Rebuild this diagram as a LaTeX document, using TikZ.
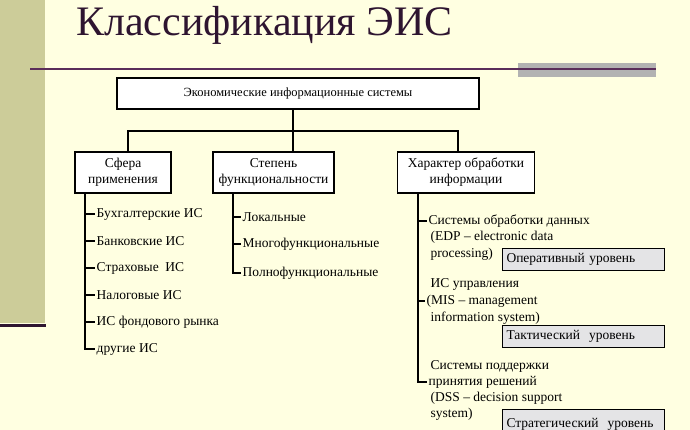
\documentclass[tikz,border=0pt]{standalone}
\usepackage{fontspec}
\setmainfont{Liberation Serif}
\usetikzlibrary{positioning}
\definecolor{slidebg}{HTML}{FFFFE1}
\definecolor{bandcol}{HTML}{CCCC99}
\definecolor{titlecol}{HTML}{2E1530}
\definecolor{rulecol}{HTML}{5A2D5A}
\definecolor{levelgray}{HTML}{E4E4E6}
\begin{document}
\begin{tikzpicture}[x=1pt,y=-1pt,
    box/.style={draw, line width=1.2pt, fill=white, align=center, inner sep=0pt, font=\fontsize{13.5}{16}\selectfont},
    item/.style={anchor=west, inner sep=1.5pt, font=\fontsize{13.5}{16}\selectfont},
    level/.style={draw, line width=1pt, fill=levelgray, anchor=north west, text width=154pt, align=left, minimum height=22pt, inner xsep=4pt, inner ysep=0pt, font=\fontsize{13.5}{16}\selectfont}]

    \clip (0,0) rectangle (690,430);
    \fill[slidebg] (0,0) rectangle (690,430);
    \fill[bandcol] (0,0) rectangle (45,323);
    \draw[titlecol, line width=3pt] (0,325) -- (46,325);
    \fill[black!30] (518,63) rectangle (656,77);
    \draw[rulecol, line width=2pt] (30,69) -- (656,69);

    \node[anchor=base west, inner sep=0pt, text=titlecol, font=\fontsize{42}{42}\selectfont] (title) at (76,36) {Классификация ЭИС};

    \node[box, minimum width=362pt, minimum height=31pt, font=\fontsize{12.5}{15}\selectfont] (eis) at (298,93.5) {Экономические информационные системы};
    \node[box, minimum width=96pt, minimum height=41pt] (sfera) at (123,172.5) {Сфера\\применения};
    \node[box, minimum width=121pt, minimum height=41pt] (stepen) at (273.5,172.5) {Степень\\функциональности};
    \node[box, minimum width=137pt, minimum height=41pt] (harakter) at (466,172.5) {Характер обработки\\информации};

    \coordinate (j1) at (128,131);
    \coordinate (j2) at (293,131);
    \coordinate (j3) at (458,131);
    \draw[line width=1.2pt] (eis.south -| j2) -- (stepen.north -| j2);
    \draw[line width=1.2pt] (sfera.north -| j1) |- (j3) -- (harakter.north -| j3);

    \node[item] (s1) at (95,214) {Бухгалтерские ИС};
    \node[item] (s2) at (95,241) {Банковские ИС};
    \node[item] (s3) at (95,268) {Страховые\ \ ИС};
    \node[item] (s4) at (95,295) {Налоговые ИС};
    \node[item] (s5) at (95,322) {ИС фондового рынка};
    \node[item] (s6) at (95,349) {другие ИС};
    \coordinate (sp1) at (85,193);
    \draw[line width=1.2pt] (sfera.south -| sp1) |- (s6.west);
    \foreach \n in {s1,s2,s3,s4,s5}
        \draw[line width=1.2pt] (\n.west -| sp1) -- (\n.west);

    \node[item] (f1) at (241,217) {Локальные};
    \node[item] (f2) at (241,244) {Многофункциональные};
    \node[item] (f3) at (241,273) {Полнофункциональные};
    \coordinate (sp2) at (233,193);
    \draw[line width=1.2pt] (stepen.south -| sp2) |- (f3.west);
    \foreach \n in {f1,f2}
        \draw[line width=1.2pt] (\n.west -| sp2) -- (\n.west);

    \node[item] (h1) at (427,221) {Системы обработки данных};
    \node[item] (h1b) at (429,237) {(EDP – electronic data};
    \node[item] (h1c) at (429,254) {processing)};
    \node[item] (h2) at (429,284) {ИС управления};
    \node[item] (h2b) at (425,301) {(MIS – management};
    \node[item] (h2c) at (429,318) {information system)};
    \node[item] (h3) at (429,366) {Системы поддержки};
    \node[item] (h3b) at (427,382) {принятия решений};
    \node[item] (h3c) at (429,398) {(DSS – decision support};
    \node[item] (h3d) at (429,414) {system)};
    \coordinate (sp3) at (418,193);
    \draw[line width=1.2pt] (harakter.south -| sp3) |- (h3b.west);
    \foreach \n in {h1,h2b}
        \draw[line width=1.2pt] (\n.west -| sp3) -- (\n.west);

    \node[level] (oper) at (502,248) {Оперативный уровень};
    \node[level] (takt) at (502,325) {Тактический\ \ уровень};
    \node[level, minimum height=30pt] (strat) at (502,409) {Стратегический\ \ уровень\\[20pt]};
\end{tikzpicture}
\end{document}
